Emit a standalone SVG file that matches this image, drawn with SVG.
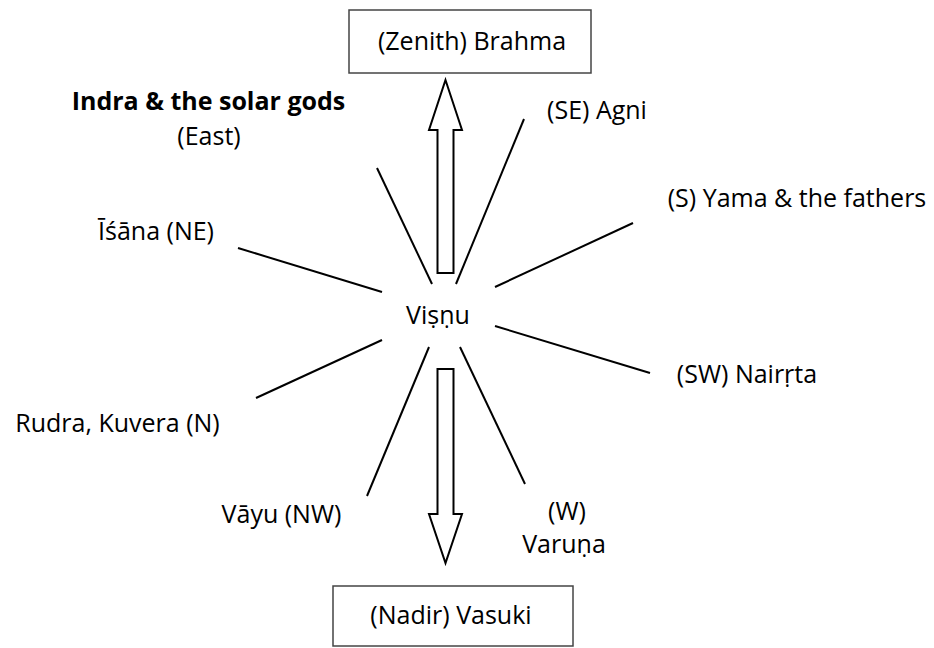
<svg xmlns="http://www.w3.org/2000/svg" width="934" height="648" viewBox="0 0 934 648">
<style>
text { font-family: "Open Sans", "Noto Sans", "Liberation Sans", sans-serif; font-size: 25px; fill: #000; text-anchor: middle; }
.b { font-weight: bold; }
.box { fill: #fff; stroke: #444; stroke-width: 1.5; }
.ray { stroke: #000; stroke-width: 2; fill: none; }
.arr { fill: #fff; stroke: #000; stroke-width: 2; stroke-linejoin: miter; }
</style>
<rect width="934" height="648" fill="#fff"/>
<g id="connectors">
<line class="ray" x1="377" y1="168" x2="432" y2="284"/>
<line class="ray" x1="524" y1="119" x2="456" y2="284"/>
<line class="ray" x1="238" y1="248" x2="382" y2="292"/>
<line class="ray" x1="495" y1="287" x2="633" y2="223"/>
<line class="ray" x1="495" y1="326" x2="650" y2="373"/>
<line class="ray" x1="256" y1="398" x2="382" y2="340"/>
<line class="ray" x1="429" y1="347" x2="367" y2="496"/>
<line class="ray" x1="460" y1="347" x2="525" y2="484"/>
<polygon class="arr" points="445.5,80 462,130 453.5,130 453.5,273 437.5,273 437.5,130 429,130"/>
<polygon class="arr" points="437.5,369 453.5,369 453.5,514 462,514 445.5,563 429,514 437.5,514"/>
</g>
<g id="zenith"><rect class="box" x="349" y="10" width="242" height="63"/><text x="472" y="50">(Zenith) Brahma</text></g>
<g id="nadir"><rect class="box" x="333" y="586" width="240" height="60"/><text x="451" y="624">(Nadir) Vasuki</text></g>
<g id="vishnu"><text x="438" y="324">Viṣṇu</text></g>
<g id="indra"><text class="b" x="208.5" y="110">Indra &amp; the solar gods</text><text x="209" y="145">(East)</text></g>
<g id="agni"><text x="597" y="119">(SE) Agni</text></g>
<g id="yama"><text x="797" y="207">(S) Yama &amp; the fathers</text></g>
<g id="isana"><text x="156" y="240">Īśāna (NE)</text></g>
<g id="nairrta"><text x="747" y="383">(SW) Nairṛta</text></g>
<g id="rudra"><text x="117.5" y="432">Rudra, Kuvera (N)</text></g>
<g id="vayu"><text x="281.5" y="523">Vāyu (NW)</text></g>
<g id="varuna"><text x="567" y="520">(W)</text><text x="564" y="553">Varuṇa</text></g>
</svg>
